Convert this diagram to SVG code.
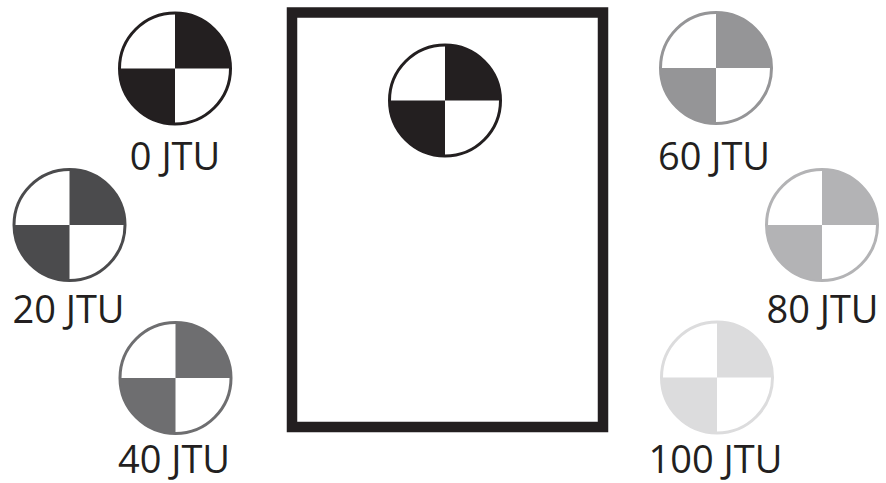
<svg xmlns="http://www.w3.org/2000/svg" xmlns:xlink="http://www.w3.org/1999/xlink" width="886" height="483" viewBox="0 0 886 483">
<style>
.lbl{font-family:"Open Sans","Liberation Sans",sans-serif;font-size:38px;fill:#231f20;text-anchor:middle}
</style>
<defs>
<g id="tgt">
<circle r="55.5" fill="#fff" stroke="currentColor" stroke-width="3"/>
<path d="M0,0V-55.5A55.5,55.5 0 0 1 55.5,0Z" fill="currentColor"/>
<path d="M0,0V55.5A55.5,55.5 0 0 1 -55.5,0Z" fill="currentColor"/>
</g>
</defs>
<rect width="886" height="483" fill="#fff"/>
<g id="tank">
<rect x="292" y="12.5" width="311" height="414.5" fill="#fff" stroke="#231f20" stroke-width="10.5"/>
<use xlink:href="#tgt" x="445" y="100.5" style="color:#231f20"/>
</g>
<g id="t0" style="color:#231f20"><use xlink:href="#tgt" x="175" y="68.5"/><text class="lbl" x="175" y="170">0 JTU</text></g>
<g id="t20" style="color:#4b4b4d"><use xlink:href="#tgt" x="69.5" y="225"/><text class="lbl" x="68.5" y="323">20 JTU</text></g>
<g id="t40" style="color:#6e6e70"><use xlink:href="#tgt" x="175.5" y="378"/><text class="lbl" x="174" y="473">40 JTU</text></g>
<g id="t60" style="color:#959597"><use xlink:href="#tgt" x="716" y="68"/><text class="lbl" x="714" y="170">60 JTU</text></g>
<g id="t80" style="color:#b3b3b5"><use xlink:href="#tgt" x="822" y="225"/><text class="lbl" x="822.5" y="323">80 JTU</text></g>
<g id="t100" style="color:#dcdcdd"><use xlink:href="#tgt" x="717" y="377.5"/><text class="lbl" x="715.5" y="473">100 JTU</text></g>
</svg>
